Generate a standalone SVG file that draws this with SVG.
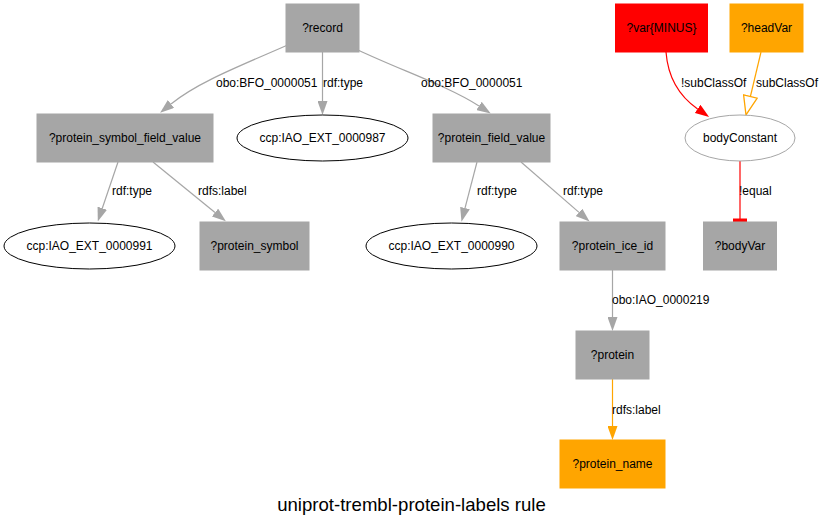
<svg xmlns="http://www.w3.org/2000/svg" width="823" height="528" viewBox="0 0 823 528">
  <style>
    text { font-family: "Liberation Sans", Arial, sans-serif; font-size: 12px; fill: #000; }
    .node { text-anchor: middle; dominant-baseline: central; }
    .box { fill: #a6a6a6; stroke: #a6a6a6; }
    .red { fill: #ff0000; stroke: #ff0000; }
    .orange { fill: #ffa500; stroke: #ffa500; }
    .ell { fill: #fff; stroke: #000; }
    .ellgray { fill: #fff; stroke: #a6a6a6; }
    .edge { fill: none; stroke: #a6a6a6; stroke-width: 1.2; }
    .edge-red { fill: none; stroke: #ff0000; stroke-width: 1.2; }
    .edge-orange { fill: none; stroke: #ffa500; stroke-width: 1.2; }
    .title { font-size: 18.6px; text-anchor: middle; }
  </style>
  <defs>
    <marker id="arrGray" viewBox="0 0 14 10" refX="0" refY="5" markerWidth="14" markerHeight="10" markerUnits="userSpaceOnUse" orient="auto">
      <path d="M0,0 L14,5 L0,10 z" fill="#a6a6a6"/>
    </marker>
    <marker id="arrRed" viewBox="0 0 14 10" refX="0" refY="5" markerWidth="14" markerHeight="10" markerUnits="userSpaceOnUse" orient="auto">
      <path d="M0,0 L14,5 L0,10 z" fill="#ff0000"/>
    </marker>
    <marker id="arrOrange" viewBox="0 0 14 10" refX="0" refY="5" markerWidth="14" markerHeight="10" markerUnits="userSpaceOnUse" orient="auto">
      <path d="M0,0 L14,5 L0,10 z" fill="#ffa500"/>
    </marker>
    <marker id="arrOrangeOpen" viewBox="-1 -1 21 16" refX="0" refY="7" markerWidth="21" markerHeight="16" markerUnits="userSpaceOnUse" orient="auto">
      <path d="M0,0 L19,7 L0,14 z" fill="#fff" stroke="#ffa500" stroke-width="1.3"/>
    </marker>
  </defs>

  <!-- connectors -->
  <g id="edges">
    <path class="edge" d="M290,44 C240,66 198,82 171,104" marker-end="url(#arrGray)"/>
    <text x="216" y="87">obo:BFO_0000051</text>
    <path class="edge" d="M322.5,52 L322.5,101" marker-end="url(#arrGray)"/>
    <text x="323" y="87">rdf:type</text>
    <path class="edge" d="M358,50 C400,70 448,86 479,106" marker-end="url(#arrGray)"/>
    <text x="421" y="87">obo:BFO_0000051</text>

    <path class="edge" d="M118,162 L102.3,208.2" marker-end="url(#arrGray)"/>
    <text x="112" y="195">rdf:type</text>
    <path class="edge" d="M153,162 L215,212.5" marker-end="url(#arrGray)"/>
    <text x="198" y="195">rdfs:label</text>

    <path class="edge" d="M477,162 L465,208.1" marker-end="url(#arrGray)"/>
    <text x="477" y="195">rdf:type</text>
    <path class="edge" d="M521,162 L579,212.4" marker-end="url(#arrGray)"/>
    <text x="563" y="195">rdf:type</text>

    <path class="edge" d="M612.5,270 L612.5,317" marker-end="url(#arrGray)"/>
    <text x="612" y="304">obo:IAO_0000219</text>
    <path class="edge-orange" d="M612.5,379 L612.5,426" marker-end="url(#arrOrange)"/>
    <text x="612" y="414">rdfs:label</text>

    <path class="edge-red" d="M666,52 C668,78 679,96 697.6,108.9" marker-end="url(#arrRed)"/>
    <text x="681" y="87">!subClassOf</text>
    <path class="edge-orange" d="M761,52 L750.4,96.5" marker-end="url(#arrOrangeOpen)"/>
    <text x="756" y="87">subClassOf</text>

    <path class="edge-red" d="M740,161 L740,219"/>
    <rect x="733" y="218.5" width="14" height="3.5" fill="#ff0000"/>
    <text x="739" y="195">!equal</text>
  </g>

  <!-- nodes -->
  <g id="record"><rect class="box" x="286" y="4" width="73" height="48"/><text class="node" x="322.5" y="28">?record</text></g>
  <g id="protein_symbol_field_value"><rect class="box" x="37" y="114" width="176" height="48"/><text class="node" x="125" y="138">?protein_symbol_field_value</text></g>
  <g id="iao_ext_0000987"><ellipse class="ell" cx="322.5" cy="138" rx="85.5" ry="23"/><text class="node" x="322.5" y="138">ccp:IAO_EXT_0000987</text></g>
  <g id="protein_field_value"><rect class="box" x="433" y="114" width="117" height="48"/><text class="node" x="491.5" y="138">?protein_field_value</text></g>
  <g id="iao_ext_0000991"><ellipse class="ell" cx="89.5" cy="246" rx="85.5" ry="23"/><text class="node" x="89.5" y="246">ccp:IAO_EXT_0000991</text></g>
  <g id="protein_symbol"><rect class="box" x="200" y="222" width="109" height="48"/><text class="node" x="254.5" y="246">?protein_symbol</text></g>
  <g id="iao_ext_0000990"><ellipse class="ell" cx="451.5" cy="246" rx="85.5" ry="23"/><text class="node" x="451.5" y="246">ccp:IAO_EXT_0000990</text></g>
  <g id="protein_ice_id"><rect class="box" x="560" y="222" width="105" height="48"/><text class="node" x="612.5" y="246">?protein_ice_id</text></g>
  <g id="protein"><rect class="box" x="576" y="331" width="73" height="48"/><text class="node" x="612.5" y="355">?protein</text></g>
  <g id="protein_name"><rect class="orange" x="560" y="440" width="105" height="48"/><text class="node" x="612.5" y="464">?protein_name</text></g>
  <g id="var_minus"><rect class="red" x="615.5" y="4" width="92" height="48"/><text class="node" x="661.5" y="28">?var{MINUS}</text></g>
  <g id="headVar"><rect class="orange" x="730" y="4" width="73" height="48"/><text class="node" x="766.5" y="28">?headVar</text></g>
  <g id="bodyConstant"><ellipse class="ellgray" cx="740" cy="138" rx="55" ry="23"/><text class="node" x="740" y="138">bodyConstant</text></g>
  <g id="bodyVar"><rect class="box" x="703.5" y="222" width="73" height="48"/><text class="node" x="740" y="246">?bodyVar</text></g>

  <text class="title" x="411.5" y="511">uniprot-trembl-protein-labels rule</text>
</svg>
